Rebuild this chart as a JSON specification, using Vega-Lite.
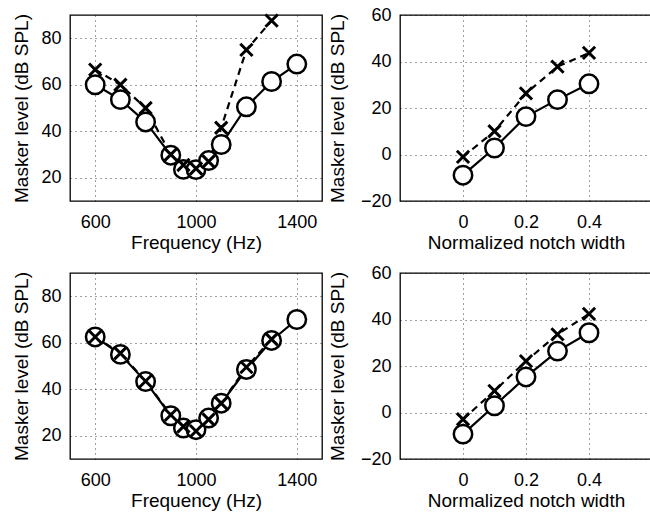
{
  "$schema": "https://vega.github.io/schema/vega-lite/v6.json",
  "padding": {"left": 12, "top": 5, "right": 0, "bottom": 0},
  "background": "white",
  "spacing": 10,
  "config": {
    "view": {"stroke": "black", "strokeWidth": 1.3},
    "font": "Liberation Sans",
    "axis": {
      "labelFont": "Liberation Sans", "labelFontSize": 18, "labelColor": "black",
      "titleFont": "Liberation Sans", "titleFontSize": 19, "titleFontWeight": "normal", "titleColor": "black",
      "domain": false, "ticks": false, "grid": true, "gridColor": "black", "gridDash": [1, 4], "gridOpacity": 0.75, "gridWidth": 1,
      "labelPadding": 9
    },
    "axisX": {"labelPadding": 12, "titlePadding": 2},
    "axisY": {"titlePadding": 9},
    "concat": {"spacing": 2}
  },
  "datasets": {
    "pts": [
      {"p": "A", "s": "o", "x": 600, "y": 60},
      {"p": "A", "s": "o", "x": 700, "y": 53.6},
      {"p": "A", "s": "o", "x": 800, "y": 44},
      {"p": "A", "s": "o", "x": 900, "y": 29.7},
      {"p": "A", "s": "o", "x": 950, "y": 23.6},
      {"p": "A", "s": "o", "x": 1000, "y": 23.5},
      {"p": "A", "s": "o", "x": 1050, "y": 27.4},
      {"p": "A", "s": "o", "x": 1100, "y": 34.3},
      {"p": "A", "s": "o", "x": 1200, "y": 50.5},
      {"p": "A", "s": "o", "x": 1300, "y": 61.4},
      {"p": "A", "s": "o", "x": 1400, "y": 68.9},
      {"p": "A", "s": "x", "x": 600, "y": 66.5},
      {"p": "A", "s": "x", "x": 700, "y": 60},
      {"p": "A", "s": "x", "x": 800, "y": 50},
      {"p": "A", "s": "x", "x": 900, "y": 30},
      {"p": "A", "s": "x", "x": 950, "y": 25.5},
      {"p": "A", "s": "x", "x": 1000, "y": 24},
      {"p": "A", "s": "x", "x": 1050, "y": 27},
      {"p": "A", "s": "x", "x": 1100, "y": 41.5},
      {"p": "A", "s": "x", "x": 1200, "y": 75},
      {"p": "A", "s": "x", "x": 1300, "y": 87.6},
      {"p": "B", "s": "o", "x": 600, "y": 62.5},
      {"p": "B", "s": "o", "x": 700, "y": 55},
      {"p": "B", "s": "o", "x": 800, "y": 43.3},
      {"p": "B", "s": "o", "x": 900, "y": 28.6},
      {"p": "B", "s": "o", "x": 950, "y": 23.3},
      {"p": "B", "s": "o", "x": 1000, "y": 22.6},
      {"p": "B", "s": "o", "x": 1050, "y": 27.6},
      {"p": "B", "s": "o", "x": 1100, "y": 34},
      {"p": "B", "s": "o", "x": 1200, "y": 48.5},
      {"p": "B", "s": "o", "x": 1300, "y": 61},
      {"p": "B", "s": "o", "x": 1400, "y": 70},
      {"p": "B", "s": "x", "x": 600, "y": 62.5},
      {"p": "B", "s": "x", "x": 700, "y": 55.5},
      {"p": "B", "s": "x", "x": 800, "y": 43.5},
      {"p": "B", "s": "x", "x": 900, "y": 29},
      {"p": "B", "s": "x", "x": 950, "y": 24},
      {"p": "B", "s": "x", "x": 1000, "y": 22},
      {"p": "B", "s": "x", "x": 1050, "y": 27},
      {"p": "B", "s": "x", "x": 1100, "y": 34},
      {"p": "B", "s": "x", "x": 1200, "y": 49.5},
      {"p": "B", "s": "x", "x": 1300, "y": 61.5},
      {"p": "C", "s": "o", "x": 0, "y": -8.9},
      {"p": "C", "s": "o", "x": 0.1, "y": 2.8},
      {"p": "C", "s": "o", "x": 0.2, "y": 16.3},
      {"p": "C", "s": "o", "x": 0.3, "y": 23.6},
      {"p": "C", "s": "o", "x": 0.4, "y": 30.4},
      {"p": "C", "s": "x", "x": 0, "y": -1},
      {"p": "C", "s": "x", "x": 0.1, "y": 10},
      {"p": "C", "s": "x", "x": 0.2, "y": 26.3},
      {"p": "C", "s": "x", "x": 0.3, "y": 37.8},
      {"p": "C", "s": "x", "x": 0.4, "y": 43.7},
      {"p": "D", "s": "o", "x": 0, "y": -9.3},
      {"p": "D", "s": "o", "x": 0.1, "y": 2.9},
      {"p": "D", "s": "o", "x": 0.2, "y": 15.3},
      {"p": "D", "s": "o", "x": 0.3, "y": 26.4},
      {"p": "D", "s": "o", "x": 0.4, "y": 34.3},
      {"p": "D", "s": "x", "x": 0, "y": -2.9},
      {"p": "D", "s": "x", "x": 0.1, "y": 9.3},
      {"p": "D", "s": "x", "x": 0.2, "y": 22.1},
      {"p": "D", "s": "x", "x": 0.3, "y": 33.6},
      {"p": "D", "s": "x", "x": 0.4, "y": 42.4}
    ]
  },
  "vconcat": [
    {
      "spacing": 4,
      "hconcat": [
        {
          "width": 252, "height": 186,
          "data": {"name": "pts"},
          "transform": [{"filter": "datum.p === 'A'"}],
          "encoding": {
            "x": {"field": "x", "type": "quantitative", "scale": {"domain": [500, 1500], "nice": false, "zero": false}, "axis": {"title": "Frequency (Hz)", "values": [600, 1000, 1400], "format": "d"}},
            "y": {"field": "y", "type": "quantitative", "scale": {"domain": [10, 90], "nice": false, "zero": false}, "axis": {"title": "Masker level (dB SPL)", "values": [20, 40, 60, 80]}}
          },
          "layer": [
            {"transform": [{"filter": "datum.s === 'o'"}], "mark": {"type": "line", "color": "black", "strokeWidth": 2.2}},
            {"transform": [{"filter": "datum.s === 'x'"}], "mark": {"type": "line", "color": "black", "strokeWidth": 2.2, "strokeDash": [7, 5]}},
            {"transform": [{"filter": "datum.s === 'o'"}], "mark": {"type": "point", "shape": "circle", "size": 340, "filled": true, "fill": "white", "stroke": "black", "strokeWidth": 2.5, "opacity": 1}},
            {"transform": [{"filter": "datum.s === 'x'"}], "mark": {"type": "point", "shape": "M-1,-1L1,1M-1,1L1,-1", "size": 150, "filled": false, "stroke": "black", "strokeWidth": 3, "opacity": 1}},
            {"data": {"values": [{"t": "A"}]}, "mark": {"type": "text", "font": "Liberation Sans", "fontSize": 15.5, "fontWeight": "bold", "align": "left", "baseline": "alphabetic", "color": "black"},
             "encoding": {"text": {"field": "t"}, "x": {"datum": 532}, "y": {"datum": 83.9}}}
          ]
        },
        {
          "width": 252, "height": 186,
          "data": {"name": "pts"},
          "transform": [{"filter": "datum.p === 'C'"}],
          "encoding": {
            "x": {"field": "x", "type": "quantitative", "scale": {"domain": [-0.2, 0.6], "nice": false, "zero": false}, "axis": {"title": "Normalized notch width", "values": [0, 0.2, 0.4], "format": "~g"}},
            "y": {"field": "y", "type": "quantitative", "scale": {"domain": [-20, 60], "nice": false, "zero": false}, "axis": {"title": "Masker level (dB SPL)", "values": [-20, 0, 20, 40, 60], "titlePadding": 13}}
          },
          "layer": [
            {"transform": [{"filter": "datum.s === 'o'"}], "mark": {"type": "line", "color": "black", "strokeWidth": 2.2}},
            {"transform": [{"filter": "datum.s === 'x'"}], "mark": {"type": "line", "color": "black", "strokeWidth": 2.2, "strokeDash": [7, 5]}},
            {"transform": [{"filter": "datum.s === 'o'"}], "mark": {"type": "point", "shape": "circle", "size": 340, "filled": true, "fill": "white", "stroke": "black", "strokeWidth": 2.5, "opacity": 1}},
            {"transform": [{"filter": "datum.s === 'x'"}], "mark": {"type": "point", "shape": "M-1,-1L1,1M-1,1L1,-1", "size": 150, "filled": false, "stroke": "black", "strokeWidth": 3, "opacity": 1}},
            {"data": {"values": [{"t": "C"}]}, "mark": {"type": "text", "font": "Liberation Sans", "fontSize": 15.5, "fontWeight": "bold", "align": "left", "baseline": "alphabetic", "color": "black"},
             "encoding": {"text": {"field": "t"}, "x": {"datum": -0.19}, "y": {"datum": 54}}}
          ]
        }
      ]
    },
    {
      "spacing": 4,
      "hconcat": [
        {
          "width": 252, "height": 186,
          "data": {"name": "pts"},
          "transform": [{"filter": "datum.p === 'B'"}],
          "encoding": {
            "x": {"field": "x", "type": "quantitative", "scale": {"domain": [500, 1500], "nice": false, "zero": false}, "axis": {"title": "Frequency (Hz)", "values": [600, 1000, 1400], "format": "d"}},
            "y": {"field": "y", "type": "quantitative", "scale": {"domain": [10, 90], "nice": false, "zero": false}, "axis": {"title": "Masker level (dB SPL)", "values": [20, 40, 60, 80]}}
          },
          "layer": [
            {"transform": [{"filter": "datum.s === 'o'"}], "mark": {"type": "line", "color": "black", "strokeWidth": 2.2}},
            {"transform": [{"filter": "datum.s === 'x'"}], "mark": {"type": "line", "color": "black", "strokeWidth": 2.2, "strokeDash": [7, 5]}},
            {"transform": [{"filter": "datum.s === 'o'"}], "mark": {"type": "point", "shape": "circle", "size": 340, "filled": true, "fill": "white", "stroke": "black", "strokeWidth": 2.5, "opacity": 1}},
            {"transform": [{"filter": "datum.s === 'x'"}], "mark": {"type": "point", "shape": "M-1,-1L1,1M-1,1L1,-1", "size": 150, "filled": false, "stroke": "black", "strokeWidth": 3, "opacity": 1}},
            {"data": {"values": [{"t": "B"}]}, "mark": {"type": "text", "font": "Liberation Sans", "fontSize": 15.5, "fontWeight": "bold", "align": "left", "baseline": "alphabetic", "color": "black"},
             "encoding": {"text": {"field": "t"}, "x": {"datum": 532}, "y": {"datum": 83.9}}}
          ]
        },
        {
          "width": 252, "height": 186,
          "data": {"name": "pts"},
          "transform": [{"filter": "datum.p === 'D'"}],
          "encoding": {
            "x": {"field": "x", "type": "quantitative", "scale": {"domain": [-0.2, 0.6], "nice": false, "zero": false}, "axis": {"title": "Normalized notch width", "values": [0, 0.2, 0.4], "format": "~g"}},
            "y": {"field": "y", "type": "quantitative", "scale": {"domain": [-20, 60], "nice": false, "zero": false}, "axis": {"title": "Masker level (dB SPL)", "values": [-20, 0, 20, 40, 60], "titlePadding": 13}}
          },
          "layer": [
            {"transform": [{"filter": "datum.s === 'o'"}], "mark": {"type": "line", "color": "black", "strokeWidth": 2.2}},
            {"transform": [{"filter": "datum.s === 'x'"}], "mark": {"type": "line", "color": "black", "strokeWidth": 2.2, "strokeDash": [7, 5]}},
            {"transform": [{"filter": "datum.s === 'o'"}], "mark": {"type": "point", "shape": "circle", "size": 340, "filled": true, "fill": "white", "stroke": "black", "strokeWidth": 2.5, "opacity": 1}},
            {"transform": [{"filter": "datum.s === 'x'"}], "mark": {"type": "point", "shape": "M-1,-1L1,1M-1,1L1,-1", "size": 150, "filled": false, "stroke": "black", "strokeWidth": 3, "opacity": 1}},
            {"data": {"values": [{"t": "D"}]}, "mark": {"type": "text", "font": "Liberation Sans", "fontSize": 15.5, "fontWeight": "bold", "align": "left", "baseline": "alphabetic", "color": "black"},
             "encoding": {"text": {"field": "t"}, "x": {"datum": -0.19}, "y": {"datum": 54}}}
          ]
        }
      ]
    }
  ]
}
